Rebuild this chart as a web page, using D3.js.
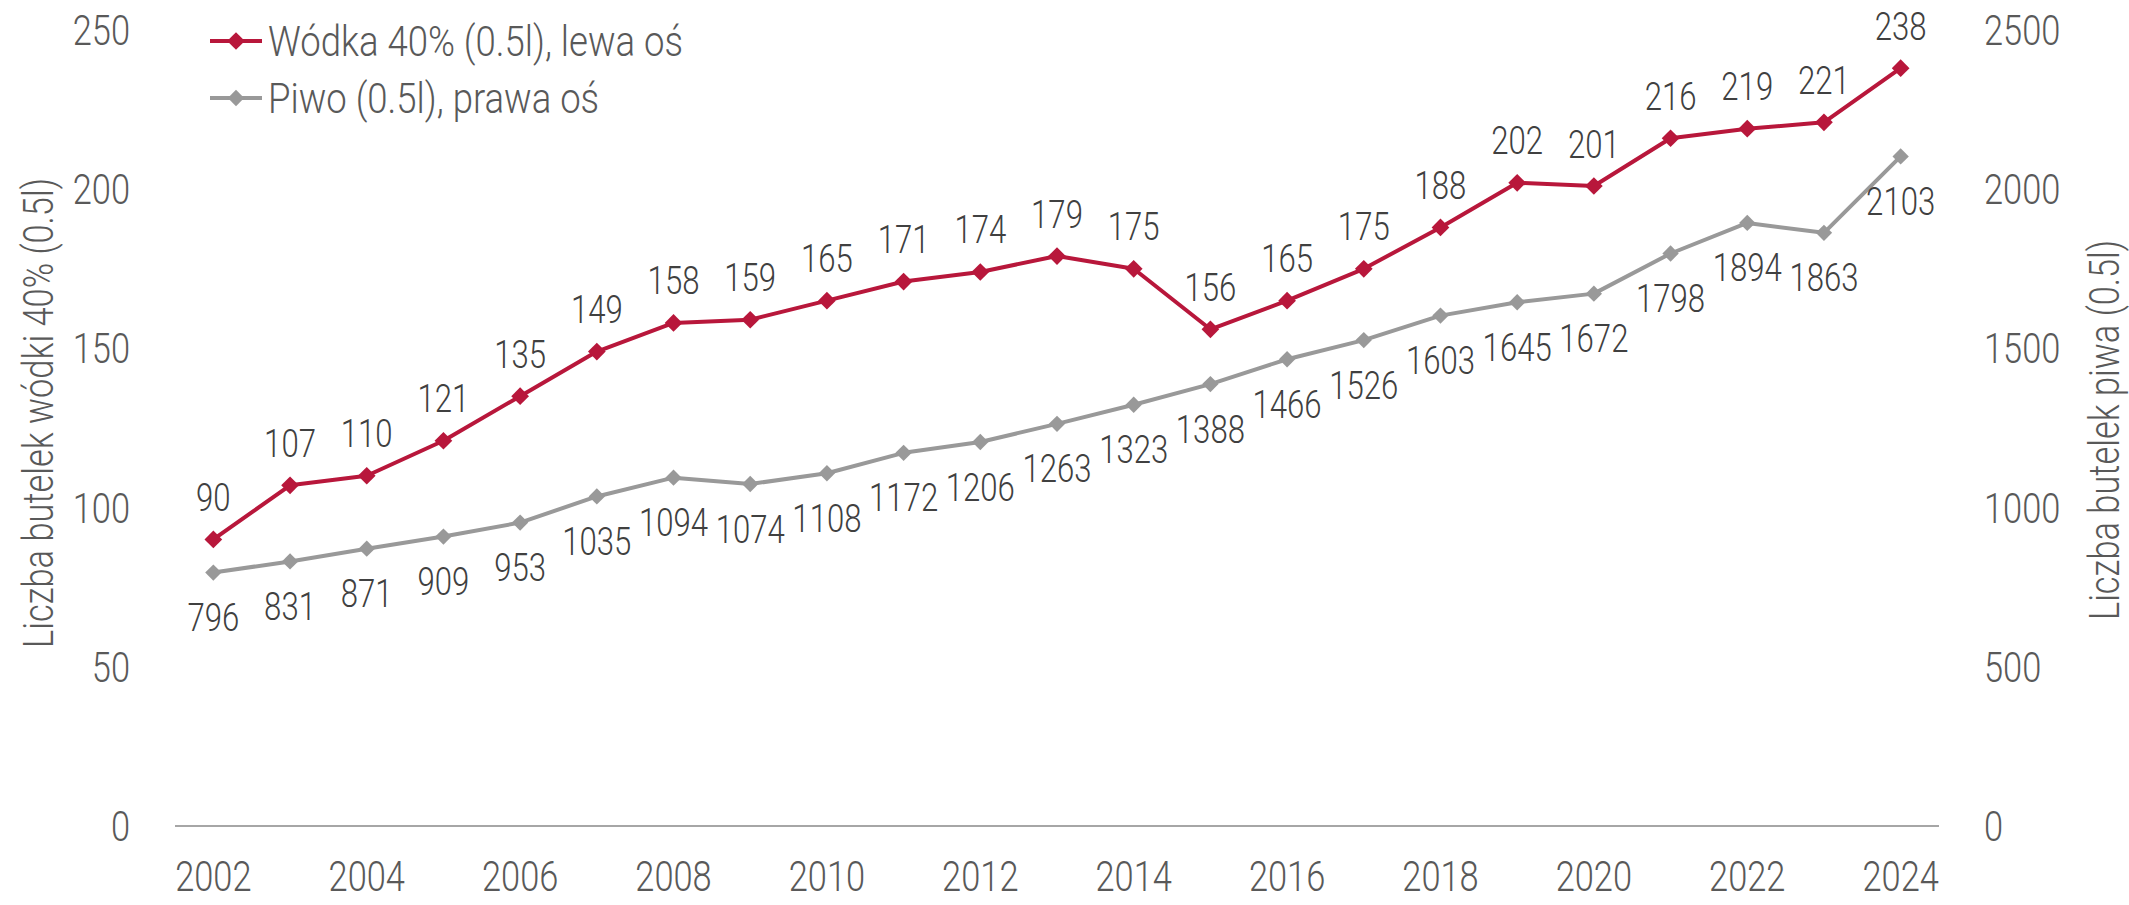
<!DOCTYPE html>
<html lang="pl">
<head>
	<meta charset="utf-8">
	<title>Wódka i piwo</title>
	<script src="https://cdn.jsdelivr.net/npm/d3@7"></script>
	<style type="text/css">
		body { margin: 0; background: #ffffff; }
		text {
			font-family: Roboto, "Open Sans", sans-serif;
			font-weight: 300;
			fill: #595959;
		}
	</style>
</head>
<body>
<script type="text/javascript">

// data
var years = [2002, 2003, 2004, 2005, 2006, 2007, 2008, 2009, 2010, 2011, 2012, 2013,
             2014, 2015, 2016, 2017, 2018, 2019, 2020, 2021, 2022, 2023, 2024];
var vodka = [90, 107, 110, 121, 135, 149, 158, 159, 165, 171, 174, 179,
             175, 156, 165, 175, 188, 202, 201, 216, 219, 221, 238];
var beer = [796, 831, 871, 909, 953, 1035, 1094, 1074, 1108, 1172, 1206, 1263,
            1323, 1388, 1466, 1526, 1603, 1645, 1672, 1798, 1894, 1863, 2103];
var leftTicks = [0, 50, 100, 150, 200, 250];
var rightTicks = [0, 500, 1000, 1500, 2000, 2500];
var yearTicks = [2002, 2004, 2006, 2008, 2010, 2012, 2014, 2016, 2018, 2020, 2022, 2024];
var legendLabels = ["Wódka 40% (0.5l), lewa oś", "Piwo (0.5l), prawa oś"];
var leftTitle = "Liczba butelek wódki 40% (0.5l)";
var rightTitle = "Liczba butelek piwa (0.5l)";

var width = 2129, height = 905;
var red = "#B8173B", grey = "#999999";
var squeeze = 0.82;   // condensed look

var svg = d3.select("body")
	.append("svg")
	.attr("width", width)
	.attr("height", height);

var xScale = d3.scaleBand()
	.domain(years)
	.range([175, 1939]);

var yLeft = d3.scaleLinear()
	.domain([0, 250])
	.range([826, 30]);

var yRight = d3.scaleLinear()
	.domain([0, 2500])
	.range([826, 30]);

function cx(d, i) { return xScale(years[i]) + xScale.bandwidth() / 2; }

// helper for squeezed text
function label(g, x, y, txt, size, anchor, rot, sq) {
	return g.append("text")
		.attr("transform", "translate(" + x + "," + y + ")" + (rot ? "rotate(" + rot + ")" : "") + "scale(" + (sq || squeeze) + ",1)")
		.attr("text-anchor", anchor)
		.attr("dy", "0.355em")
		.attr("font-size", size)
		.text(txt);
}

// baseline
svg.append("line")
	.attr("x1", xScale.range()[0])
	.attr("x2", xScale.range()[1])
	.attr("y1", yLeft(0))
	.attr("y2", yLeft(0))
	.attr("stroke", "#A6A6A6")
	.attr("stroke-width", 2);

// left axis labels
leftTicks.forEach(function(t) {
	label(svg, 130, yLeft(t), t, 42, "end");
});
// right axis labels
rightTicks.forEach(function(t) {
	label(svg, 1984, yRight(t), t, 42, "start");
});
// year labels
yearTicks.forEach(function(t) {
	label(svg, xScale(t) + xScale.bandwidth() / 2, 876, t, 42, "middle");
});

// axis titles
label(svg, 38, 413, leftTitle, 42, "middle", -90);
label(svg, 2104, 430, rightTitle, 42, "middle", -90);

var diamond = d3.symbol().type(d3.symbolDiamond2);

function drawSeries(values, scale, color, size, offset) {
	var line = d3.line()
		.x(function(d, i) { return cx(d, i); })
		.y(function(d) { return scale(d); });

	svg.append("path")
		.datum(values)
		.attr("d", line)
		.attr("fill", "none")
		.attr("stroke", color)
		.attr("stroke-width", 4)
		.attr("stroke-linejoin", "round");

	svg.selectAll(null)
		.data(values)
		.enter()
		.append("path")
		.attr("d", diamond.size(size))
		.attr("transform", function(d, i) { return "translate(" + cx(d, i) + "," + scale(d) + ")"; })
		.attr("fill", color);

	values.forEach(function(d, i) {
		label(svg, cx(d, i), scale(d) + offset, d, 38, "middle")
			.style("fill", "#404040");
	});
}

drawSeries(beer, yRight, grey, 170, 45);
drawSeries(vodka, yLeft, red, 200, -42);

// legend
var legendColors = [red, grey];
var legendY = [41, 98];
legendLabels.forEach(function(l, i) {
	svg.append("line")
		.attr("x1", 210).attr("x2", 262)
		.attr("y1", legendY[i]).attr("y2", legendY[i])
		.attr("stroke", legendColors[i])
		.attr("stroke-width", 4);
	svg.append("path")
		.attr("d", diamond.size(i == 0 ? 200 : 170))
		.attr("transform", "translate(236," + legendY[i] + ")")
		.attr("fill", legendColors[i]);
	label(svg, 268, legendY[i], l, 43, "start", 0, 0.85);
});

</script>
</body>
</html>
